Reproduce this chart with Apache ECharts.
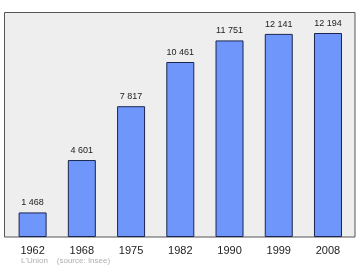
<!DOCTYPE html>
<html><head><meta charset="utf-8">
<script src="https://cdn.jsdelivr.net/npm/echarts@6/dist/echarts.min.js"></script>
<style>html,body{margin:0;padding:0;background:#fff}#c{width:360px;height:270px}</style>
</head><body><div id="c"></div>
<script>
const years = ['1962','1968','1975','1982','1990','1999','2008'];
const population = [1468, 4601, 7817, 10461, 11751, 12141, 12194];
const sourceText = "L'Union    (source: Insee)";

const chart = echarts.init(document.getElementById('c'), null, {renderer:'canvas'});
chart.setOption({
  animation:false,
  backgroundColor:'#ffffff',
  graphic:[
    {type:'rect', shape:{x:4.5,y:12.5,width:350.5,height:224.5}, style:{fill:'#eeeeee', stroke:'#555555', lineWidth:1}, z:-10},
    {type:'text', left:21, top:257, style:{text:sourceText, fill:'#b0b0b0', font:'8px "Liberation Sans", Arial, sans-serif'}}
  ],
  grid:{left:8, right:7.4, top:12, bottom:33, containLabel:false},
  xAxis:{type:'category', data:years,
    axisLine:{show:false}, axisTick:{show:false},
    axisLabel:{color:'#222', fontSize:11, fontFamily:'"Liberation Sans", Arial, sans-serif', margin:8}},
  yAxis:{type:'value', min:0, max:13450, show:false, splitLine:{show:false}},
  series:[{type:'bar', data:population, barWidth:28,
    itemStyle:{color:'#6f96fb', borderColor:'#1c2550', borderWidth:1},
    label:{show:true, position:'top', distance:5, color:'#222', fontSize:9,
      fontFamily:'"Liberation Sans", Arial, sans-serif',
      formatter:p=>String(p.value).replace(/\B(?=(\d{3})+(?!\d))/g,' ')}}]
});
</script></body></html>
